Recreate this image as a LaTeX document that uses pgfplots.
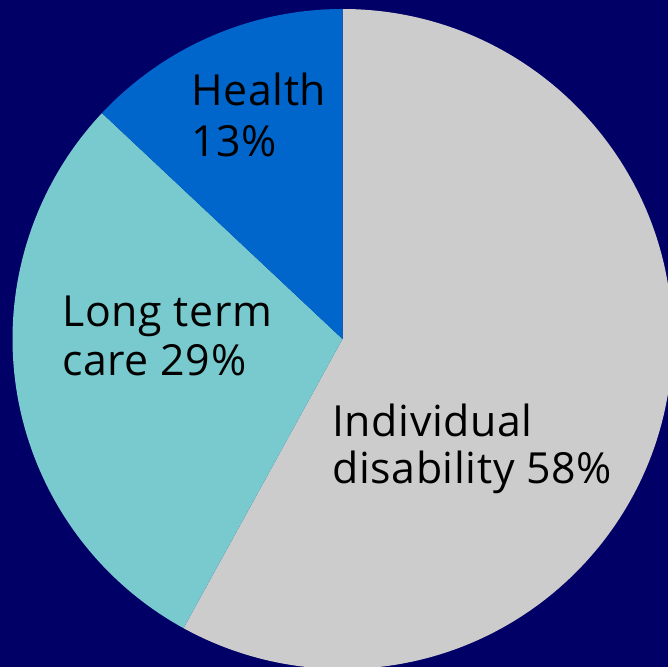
\documentclass[border=0pt]{standalone}
\usepackage{pgfplots}
\usepackage{pgfplotstable}
\pgfplotsset{compat=1.18}
\usepackage{fontspec}
\setmainfont{Open Sans}[LetterSpace=1.5]
\definecolor{navybg}{HTML}{000066}
\definecolor{slicegray}{HTML}{CCCCCC}
\definecolor{sliceteal}{HTML}{78CACF}
\definecolor{sliceblue}{HTML}{0066CC}
\pgfplotstableread{
label value
Individual 58
LongTerm 29
Health 13
}\piedata
\begin{document}
\begin{tikzpicture}
\pgfplotstablegetelem{0}{value}\of\piedata \edef\va{\pgfplotsretval}
\pgfplotstablegetelem{1}{value}\of\piedata \edef\vb{\pgfplotsretval}
\pgfplotstablegetelem{2}{value}\of\piedata \edef\vc{\pgfplotsretval}
\pgfmathsetmacro{\aA}{90}
\pgfmathsetmacro{\aB}{90-3.6*\va}
\pgfmathsetmacro{\aC}{\aB-3.6*\vb}
\pgfmathsetmacro{\aD}{\aC-3.6*\vc}
\begin{axis}[
  x=1bp, y=1bp,
  xmin=0, xmax=668, ymin=0, ymax=667,
  hide axis, clip=true,
  anchor=south west, at={(0,0)},
]
\fill[navybg] (axis cs:0,0) rectangle (axis cs:668,667);
\fill[slicegray] (axis cs:342.5,328) -- ++(\aA:330bp) arc[start angle=\aA, end angle=\aB, radius=330bp] -- cycle;
\fill[sliceteal] (axis cs:342.5,328) -- ++(\aB:330bp) arc[start angle=\aB, end angle=\aC, radius=330bp] -- cycle;
\fill[sliceblue] (axis cs:342.5,328) -- ++(\aC:330bp) arc[start angle=\aC, end angle=\aD, radius=330bp] -- cycle;
\node[anchor=base west, inner sep=0pt, font=\fontsize{43}{48}\selectfont] at (axis cs:332,230.3) {Individual};
\node[anchor=base west, inner sep=0pt, font=\fontsize{43}{48}\selectfont] at (axis cs:332,184) {disability \va\%};
\node[anchor=base west, inner sep=0pt, font=\fontsize{43}{48}\selectfont] at (axis cs:191,561) {Health};
\node[anchor=base west, inner sep=0pt, font=\fontsize{43}{48}\selectfont] at (axis cs:191,510.3) {\vc\%};
\node[anchor=base west, inner sep=0pt, font=\fontsize{43}{48}\selectfont] at (axis cs:62,340.3) {Long term};
\node[anchor=base west, inner sep=0pt, font=\fontsize{43}{48}\selectfont] at (axis cs:62,292) {care \vb\%};
\end{axis}
\pgfresetboundingbox
\path (0,0) rectangle (668bp,667bp);
\end{tikzpicture}
\end{document}
